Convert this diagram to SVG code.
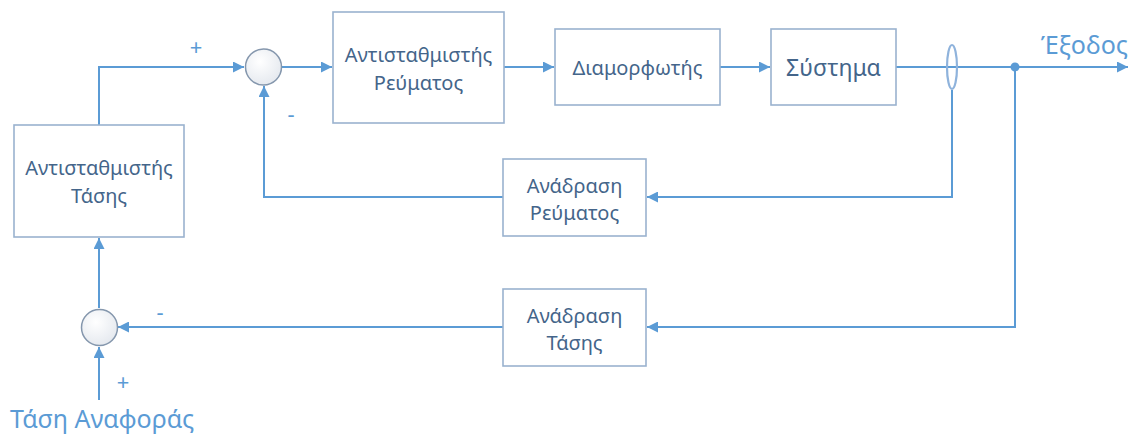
<svg xmlns="http://www.w3.org/2000/svg" width="1131" height="434" viewBox="0 0 1131 434">
  <defs>
    <marker id="arrow" viewBox="0 0 10 10" refX="10" refY="5" markerWidth="5.5" markerHeight="5.5" orient="auto" markerUnits="strokeWidth">
      <path d="M0,0 L10,5 L0,10 z" fill="#5B9BD5"/>
    </marker>
    <radialGradient id="sumFill" cx="0.4" cy="0.35" r="0.7">
      <stop offset="0" stop-color="#FFFFFF"/>
      <stop offset="1" stop-color="#E4E8EE"/>
    </radialGradient>
    <filter id="soft" x="-20%" y="-20%" width="140%" height="140%">
      <feGaussianBlur stdDeviation="0.6"/>
    </filter>
  </defs>
  <style>
    .box { fill: #FFFFFF; stroke: #9AB2CF; stroke-width: 1.6; }
    .sum { fill: url(#sumFill); stroke: #8597AD; stroke-width: 1.5; }
    .wire { fill: none; stroke: #5B9BD5; stroke-width: 2; }
    .label { font-family: "Noto Sans", "Open Sans", sans-serif; font-size: 20px; fill: #44658A; text-anchor: middle; }
    .big { font-size: 23px; }
    .sign { font-family: "Noto Sans", "Open Sans", sans-serif; font-size: 22px; fill: #5B9BD5; text-anchor: middle; }
    .io { font-family: "Noto Sans", "Open Sans", sans-serif; font-size: 25px; fill: #5B9BD5; }
  </style>

  <g id="connectors">
    <path class="wire" d="M99,125 V67 H244" marker-end="url(#arrow)"/>
    <path class="wire" d="M282,67 H332" marker-end="url(#arrow)"/>
    <path class="wire" d="M504,67 H554" marker-end="url(#arrow)"/>
    <path class="wire" d="M720,67 H770" marker-end="url(#arrow)"/>
    <path class="wire" d="M896,67 H1128" marker-end="url(#arrow)"/>
    <path class="wire" d="M952,90 V197 H647" marker-end="url(#arrow)"/>
    <path class="wire" d="M503,197 H264 V86" marker-end="url(#arrow)"/>
    <path class="wire" d="M1015,67 V327 H647" marker-end="url(#arrow)"/>
    <path class="wire" d="M503,327 H118" marker-end="url(#arrow)"/>
    <path class="wire" d="M99,308 V238" marker-end="url(#arrow)"/>
    <path class="wire" d="M99,400 V347" marker-end="url(#arrow)"/>
    <circle cx="1015" cy="67" r="4.5" fill="#5B9BD5"/>
    <ellipse cx="952" cy="67" rx="5" ry="22" fill="none" stroke="#8FB3DC" stroke-width="2.2" filter="url(#soft)"/>
    <text class="sign" x="196" y="55">+</text>
    <text class="sign" x="291" y="122">-</text>
    <text class="sign" x="160" y="320">-</text>
    <text class="sign" x="123" y="390">+</text>
  </g>

  <g id="sum-current">
    <circle class="sum" cx="263.5" cy="67" r="18"/>
  </g>
  <g id="sum-voltage">
    <circle class="sum" cx="99.5" cy="327.5" r="18"/>
  </g>

  <g id="voltage-compensator">
    <rect class="box" x="14" y="125" width="170" height="112"/>
    <text class="label" x="99" y="175">Αντισταθμιστής</text>
    <text class="label" x="99" y="203">Τάσης</text>
  </g>

  <g id="current-compensator">
    <rect class="box" x="333" y="12" width="171" height="111"/>
    <text class="label" x="418.5" y="62">Αντισταθμιστής</text>
    <text class="label" x="418.5" y="90">Ρεύματος</text>
  </g>

  <g id="modulator">
    <rect class="box" x="555" y="29" width="165" height="76"/>
    <text class="label" x="637.5" y="75">Διαμορφωτής</text>
  </g>

  <g id="system">
    <rect class="box" x="771" y="29" width="125" height="76"/>
    <text class="label big" x="833.5" y="76">Σύστημα</text>
  </g>

  <g id="current-feedback">
    <rect class="box" x="503" y="159" width="143" height="77"/>
    <text class="label" x="574.5" y="193">Ανάδραση</text>
    <text class="label" x="574.5" y="220">Ρεύματος</text>
  </g>

  <g id="voltage-feedback">
    <rect class="box" x="503" y="289" width="143" height="77"/>
    <text class="label" x="574.5" y="323">Ανάδραση</text>
    <text class="label" x="574.5" y="350">Τάσης</text>
  </g>

  <g id="output-label">
    <text class="io" x="1128" y="54" text-anchor="end">Έξοδος</text>
  </g>
  <g id="reference-label">
    <text class="io" x="10" y="428">Τάση Αναφοράς</text>
  </g>
</svg>
